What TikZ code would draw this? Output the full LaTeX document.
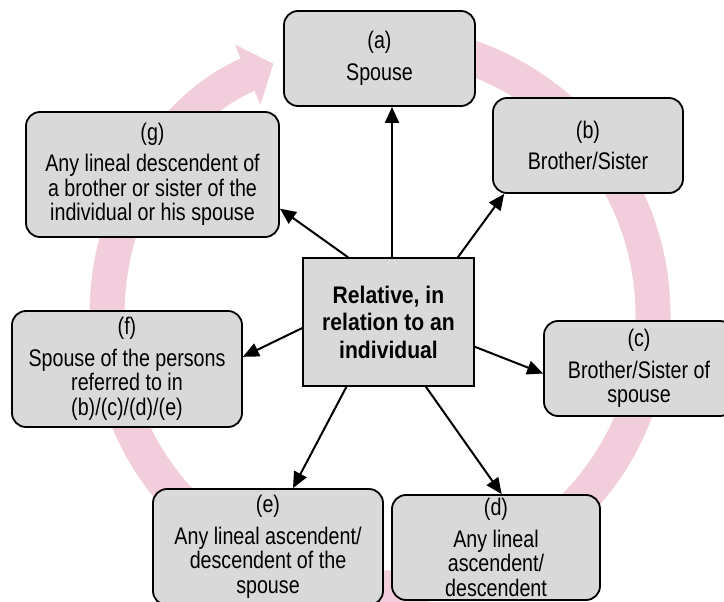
\documentclass[tikz,border=0pt]{standalone}
\usepackage{fontspec}
\setmainfont{Liberation Sans}[FakeStretch=0.82]
\newfontfamily\hubfont{Liberation Sans}[FakeStretch=0.88]
\usepackage{xcolor}
\usetikzlibrary{
    arrows.meta,
    positioning
}
\definecolor{relGray}{RGB}{217,217,217}
\definecolor{relPink}{RGB}{242,205,219}
\tikzset{
  relbox/.style  = {draw, line width=1.8pt, rounded corners=14pt, fill=relGray,
                    align=center, inner sep=0pt,
                    font=\fontsize{24}{24.5}\selectfont},
  hubbox/.style  = {draw, line width=1.4pt, fill=relGray, align=center,
                    minimum width=171pt, minimum height=128pt, inner sep=0pt,
                    font=\hubfont\bfseries\fontsize{24}{27.5}\selectfont},
  link/.style    = {-{Triangle[length=16pt,width=14pt]}, line width=2pt},
  ringarrow/.style = {-{Triangle[length=28pt,width=64pt]}, line width=35pt,
                      relPink}
}

\begin{document}
\begin{tikzpicture}[x=1pt, y=-1pt]
  \useasboundingbox (0,0) rectangle (724,602);

  % ── CYCLE ──
  \coordinate (C_mid) at (380,315);
  \draw[ringarrow] (C_mid) ++(-95:273)
    arc[start angle=-95, end angle=247, radius=273];

  % ── HUB ──
  \node[hubbox] (HUB) at (388.5,322) {Relative, in\\relation to an\\individual};

  % ── RELATIVES ──
  \node[relbox, minimum width=191pt, minimum height=95pt]
    (R_spouse) at (379.5,58.5) {(a)\\[7pt]Spouse};
  \node[relbox, minimum width=190pt, minimum height=95pt]
    (R_sib)    at (588,145.5) {(b)\\[7pt]Brother/Sister};
  \node[relbox, minimum width=190pt, minimum height=95pt]
    (R_sibsp)  at (639,368.5) {(c)\\[7pt]Brother/Sister of\\spouse};
  \node[relbox, minimum width=208pt, minimum height=105pt]
    (R_lin)    at (496,547.5) {(d)\\[7pt]Any lineal\\ascendent/\\descendent};
  \node[relbox, minimum width=230pt, minimum height=116pt]
    (R_linsp)  at (268,547) {(e)\\[7pt]Any lineal ascendent/\\descendent of the\\spouse};
  \node[relbox, minimum width=230pt, minimum height=116pt]
    (R_spref)  at (127,369) {(f)\\[7pt]Spouse of the persons\\referred to in\\(b)/(c)/(d)/(e)};
  \node[relbox, minimum width=253pt, minimum height=125pt]
    (R_desc)   at (152.5,174.5) {(g)\\[7pt]Any lineal descendent of\\a brother or sister of the\\individual or his spouse};

  \draw[link] ([xshift=3.5pt]HUB.north) -- ([xshift=3.5pt]HUB.north |- R_spouse.south);
  \draw[link] (HUB.43)  -- (R_sib.210);
  \draw[link] (HUB.-16) -- (R_sibsp.183);
  \draw[link] (HUB.-60) -- (R_lin.84);
  \draw[link] (HUB.237) -- (R_linsp.67);
  \draw[link] (HUB.184) -- (R_spref.6);
  \draw[link] (HUB.122) -- (R_desc.-15);
\end{tikzpicture}
\end{document}
